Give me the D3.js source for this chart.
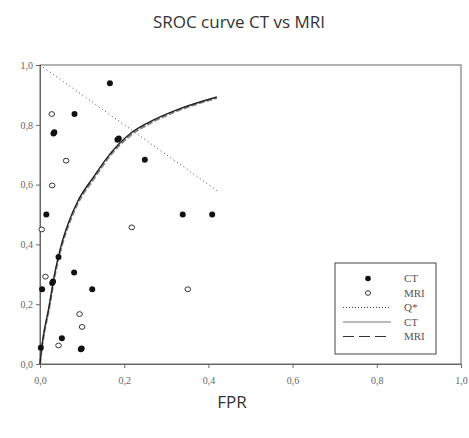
<!DOCTYPE html>
<html lang="en">
<head>
<meta charset="UTF-8">
<title>sroc-ct-vs-mri</title>
<style>
  body { margin: 0; background: #fff; }
  .tick text { font-family: "Liberation Serif", serif; font-size: 10px; fill: #666; }
</style>
</head>
<body>
<div id="container"></div>
<script src="https://d3js.org/d3.v7.min.js"></script>
<script>
// study points (FPR, TPR)
var ctFpr = [0.166, 0.082, 0.032, 0.034, 0.184, 0.187, 0.249, 0.015, 0.339, 0.409, 0.044, 0.081, 0.029, 0.031, 0.005, 0.124, 0.052, 0.002, 0.097, 0.099];
var ctTpr = [0.939, 0.836, 0.771, 0.775, 0.750, 0.754, 0.683, 0.500, 0.500, 0.500, 0.358, 0.306, 0.271, 0.276, 0.250, 0.250, 0.086, 0.054, 0.049, 0.052];
var mriFpr = [0.028, 0.062, 0.029, 0.004, 0.218, 0.013, 0.094, 0.100, 0.044, 0.351];
var mriTpr = [0.836, 0.680, 0.597, 0.450, 0.457, 0.292, 0.167, 0.124, 0.062, 0.250];

// SROC curves
var curveFpr = [0, 0.002, 0.010, 0.020, 0.036, 0.051, 0.067, 0.090, 0.127, 0.166, 0.214, 0.261, 0.325, 0.420];
var ctCurve  = [0, 0.030, 0.110, 0.180, 0.310, 0.400, 0.470, 0.545, 0.625, 0.702, 0.770, 0.810, 0.850, 0.893];
var mriCurve = [0, 0.028, 0.105, 0.175, 0.303, 0.392, 0.462, 0.538, 0.618, 0.696, 0.764, 0.805, 0.846, 0.890];

// Q* line
var qFpr = [0, 0.42];
var qTpr = [1, 0.58];

var xTicks = [0, 0.2, 0.4, 0.6, 0.8, 1.0];
var yTicks = [0, 0.2, 0.4, 0.6, 0.8, 1.0];

var width = 469, height = 438;
var plot = {left: 40, right: 461, top: 65, bottom: 364};

var svg = d3.select("#container").append("svg")
    .attr("width", width)
    .attr("height", height);

var x = d3.scaleLinear().domain([0, 1]).range([plot.left, plot.right]);
var y = d3.scaleLinear().domain([0, 1]).range([plot.bottom, plot.top]);
var fmt = function(d) { return d3.format(".1f")(d).replace(".", ","); };

// frame
svg.append("rect")
    .attr("x", plot.left).attr("y", plot.top)
    .attr("width", plot.right - plot.left).attr("height", plot.bottom - plot.top)
    .attr("fill", "none").attr("stroke", "#666").attr("stroke-width", 1);

var xAxis = svg.append("g")
    .attr("transform", "translate(0," + plot.bottom + ")")
    .call(d3.axisBottom(x).tickValues(xTicks).tickFormat(fmt).tickSize(4).tickPadding(9).tickSizeOuter(0));
var yAxis = svg.append("g")
    .attr("transform", "translate(" + plot.left + ",0)")
    .call(d3.axisLeft(y).tickValues(yTicks).tickFormat(fmt).tickSize(4).tickPadding(3).tickSizeOuter(0));
[xAxis, yAxis].forEach(function(a) {
  a.select(".domain").attr("stroke", "#666");
  a.selectAll(".tick line").attr("stroke", "#666");
});

// Q* dotted line
svg.append("path")
    .datum(d3.range(qFpr.length))
    .attr("fill", "none").attr("stroke", "#444").attr("stroke-width", 1)
    .attr("stroke-dasharray", "1,3")
    .attr("d", d3.line().x(function(i) { return x(qFpr[i]); }).y(function(i) { return y(qTpr[i]); }));

// curves
var curve = function(vals) {
  return d3.line().curve(d3.curveMonotoneX)
      .x(function(i) { return x(curveFpr[i]); })
      .y(function(i) { return y(vals[i]); });
};
svg.append("path")
    .datum(d3.range(curveFpr.length))
    .attr("fill", "none").attr("stroke", "#888").attr("stroke-width", 2.2)
    .attr("stroke-dasharray", "6,2")
    .attr("d", curve(mriCurve));
svg.append("path")
    .datum(d3.range(curveFpr.length))
    .attr("fill", "none").attr("stroke", "#222").attr("stroke-width", 1.4)
    .attr("d", curve(ctCurve));

// points
svg.append("g").selectAll("circle")
    .data(d3.range(ctFpr.length))
    .enter().append("circle")
    .attr("cx", function(i) { return x(ctFpr[i]); })
    .attr("cy", function(i) { return y(ctTpr[i]); })
    .attr("r", 3)
    .attr("fill", "#111");

svg.append("g").selectAll("ellipse")
    .data(d3.range(mriFpr.length))
    .enter().append("ellipse")
    .attr("cx", function(i) { return x(mriFpr[i]); })
    .attr("cy", function(i) { return y(mriTpr[i]); })
    .attr("rx", 2.8).attr("ry", 2.4)
    .attr("fill", "#fff").attr("stroke", "#333").attr("stroke-width", 1);

// legend
var lg = svg.append("g").attr("transform", "translate(335,263)");
lg.append("rect").attr("width", 101).attr("height", 91)
    .attr("fill", "#fff").attr("stroke", "#444").attr("stroke-width", 1);
var rows = ["CT", "MRI", "Q*", "CT", "MRI"];
var rowY = function(i) { return 15.5 + i * 14.5; };
lg.selectAll("text").data(rows).enter().append("text")
    .attr("x", 69).attr("y", function(d, i) { return rowY(i); })
    .attr("dy", "0.35em")
    .attr("font-family", "Liberation Serif, serif").attr("font-size", 11)
    .attr("fill", "#555")
    .text(function(d) { return d; });
lg.append("circle").attr("cx", 33).attr("cy", rowY(0)).attr("r", 2.8).attr("fill", "#111");
lg.append("ellipse").attr("cx", 33).attr("cy", rowY(1)).attr("rx", 2.6).attr("ry", 2.3)
    .attr("fill", "#fff").attr("stroke", "#333");
lg.append("line").attr("x1", 8).attr("x2", 56).attr("y1", rowY(2)).attr("y2", rowY(2))
    .attr("stroke", "#444").attr("stroke-dasharray", "1,2");
lg.append("line").attr("x1", 8).attr("x2", 56).attr("y1", rowY(3)).attr("y2", rowY(3))
    .attr("stroke", "#777").attr("stroke-width", 1.2);
lg.append("line").attr("x1", 8).attr("x2", 56).attr("y1", rowY(4)).attr("y2", rowY(4))
    .attr("stroke", "#333").attr("stroke-dasharray", "11,5");

// titles
svg.append("text")
    .attr("x", 239).attr("y", 28)
    .attr("text-anchor", "middle")
    .attr("font-family", "Open Sans, sans-serif").attr("font-size", 17)
    .attr("fill", "#333")
    .text("SROC curve CT vs MRI");
svg.append("text")
    .attr("x", 232).attr("y", 408)
    .attr("text-anchor", "middle")
    .attr("font-family", "Open Sans, sans-serif").attr("font-size", 17)
    .attr("fill", "#333")
    .text("FPR");
</script>
</body>
</html>
